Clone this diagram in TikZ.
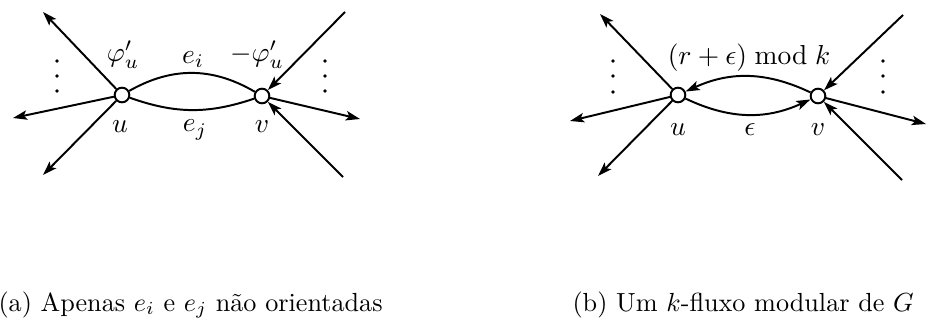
\documentclass[tikz,border=0pt]{standalone}
\usetikzlibrary{arrows.meta}
\begin{document}
\begin{tikzpicture}[x=0.382pt,y=-0.382pt,
  vtx/.style={circle,draw,fill=white,line width=0.75pt,inner sep=0pt,minimum size=5.6pt},
  arr/.style={line width=0.75pt,-{Stealth[length=5.4pt,width=3.6pt,inset=1.2pt]}},
  ln/.style={line width=0.75pt},
  lbl/.style={inner sep=0pt,anchor=center,scale=1.05},
  dotmark/.style={circle,fill=black,inner sep=0pt,minimum size=1.5pt}]
\useasboundingbox (0,0) rectangle (926,332);
% ---------- panel (a)
\node[vtx] (u) at (122,95) {};
\node[vtx] (v) at (262,96) {};
\coordinate (a1) at (43,12);
\coordinate (a2) at (13,118);
\coordinate (a3) at (43,175);
\coordinate (a4) at (345,12);
\coordinate (a5) at (360,119);
\coordinate (a6) at (343,177);
\draw[arr] (u) -- (a1);
\draw[arr] (u) -- (a2);
\draw[arr] (u) -- (a3);
\draw[arr] (a4) -- (v);
\draw[arr] (v) -- (a5);
\draw[arr] (a6) -- (v);
\draw[ln] (u) to[bend left=30] (v);
\draw[ln] (u) to[bend right=19] (v);
\foreach \yy [count=\i] in {61,76,91} {
  \node[dotmark] (dl\i) at (57,\yy) {};
  \node[dotmark] (dr\i) at (325,\yy) {};
}
\node[lbl] (phi) at (123,55) {$\varphi'_u$};
\node[lbl] (ei) at (193,60) {$e_i$};
\node[lbl] (mphi) at (257,55) {$-\varphi'_u$};
\node[lbl] (ul) at (120,127) {$u$};
\node[lbl] (ej) at (195,130) {$e_j$};
\node[lbl] (vl) at (262,127) {$v$};
% ---------- panel (b)
\node[vtx] (bu) at (678,95) {};
\node[vtx] (bv) at (818,96) {};
\coordinate (b1) at (600,14);
\coordinate (b2) at (570,121);
\coordinate (b3) at (598,176);
\coordinate (b4) at (903,15);
\coordinate (b5) at (926,124);
\coordinate (b6) at (902,180);
\draw[arr] (bu) -- (b1);
\draw[arr] (bu) -- (b2);
\draw[arr] (bu) -- (b3);
\draw[arr] (b4) -- (bv);
\draw[arr] (bv) -- (b5);
\draw[arr] (b6) -- (bv);
\draw[arr] (bv) to[bend right=25] (bu);
\draw[arr] (bu) to[bend right=25] (bv);
\foreach \yy [count=\i] in {61,76,92} {
  \node[dotmark] (bdl\i) at (613,\yy) {};
  \node[dotmark] (bdr\i) at (883,\yy) {};
}
\node[lbl] (mod) at (749,58) {$(r+\epsilon) \bmod k$};
\node[lbl] (bul) at (678,130) {$u$};
\node[lbl] (eps) at (750,130) {$\epsilon$};
\node[lbl] (bvl) at (818,130) {$v$};
% ---------- captions
\node[inner sep=0pt,anchor=base west] (capa) at (-2,311) {(a) Apenas $e_i$ e $e_j$ não orientadas};
\node[inner sep=0pt,anchor=base west] (capb) at (572,311) {(b) Um $k$-fluxo modular de $G$};
\end{tikzpicture}
\end{document}
